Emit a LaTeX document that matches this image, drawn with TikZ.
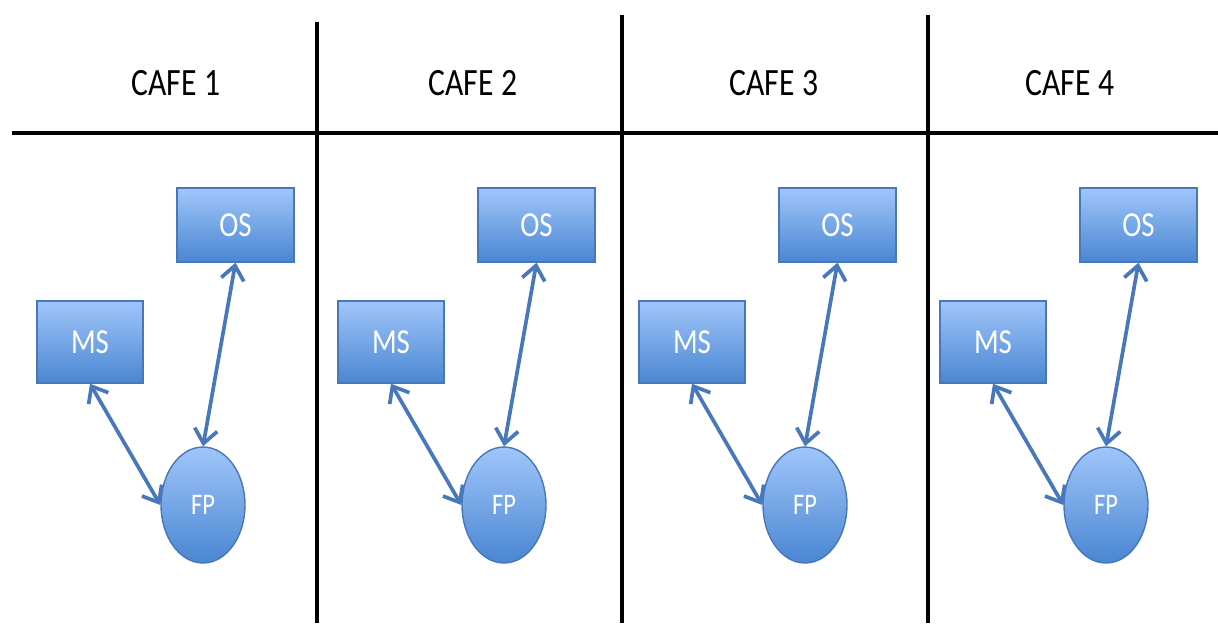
\documentclass[tikz,border=0pt]{standalone}
\usepackage{fontspec}
\setmainfont{Carlito}[FakeStretch=0.82]
\usetikzlibrary{arrows.meta,shapes.geometric}
\definecolor{boxtop}{RGB}{160,198,250}
\definecolor{boxbot}{RGB}{74,134,210}
\definecolor{boxline}{RGB}{72,120,185}
\tikzset{
  bluebox/.style={draw=boxline,line width=0.8pt,top color=boxtop,bottom color=boxbot,
    text=white,font=\fontsize{20}{20}\selectfont,inner sep=0pt},
  srvbox/.style={bluebox,rectangle,minimum width=2.34cm,minimum height=1.48cm},
  msbox/.style={bluebox,rectangle,minimum width=2.12cm,minimum height=1.64cm},
  fpnode/.style={bluebox,ellipse,minimum width=1.68cm,minimum height=2.32cm,font=\fontsize{17}{17}\selectfont},
  link/.style={draw=boxline,line width=2.1pt,{Straight Barb[length=8pt,width=13pt]}-{Straight Barb[length=8pt,width=13pt]}},
  cafelabel/.style={font=\fontsize{22}{22}\selectfont}
}
\begin{document}
\begin{tikzpicture}[x=0.02cm,y=-0.02cm]
  \useasboundingbox (0,0) rectangle (1218,623);
  % grid of cafes
  \draw [line width=2.2pt] (12,133) -- (1218,133);
  \draw [line width=2.2pt] (317,22) -- (317,623);
  \draw [line width=2.2pt] (622,15) -- (622,623);
  \draw [line width=2.2pt] (928,15) -- (928,623);
  \foreach \i/\cx in {1/176,2/473,3/774,4/1070}{
    \node [cafelabel] (cafe\i) at (\cx,83) {CAFE \i};
  }
  \foreach \i in {1,...,4}{
    \pgfmathsetmacro{\dx}{301*(\i-1)}
    \node [srvbox] (os\i) at (235.5+\dx,225) {OS};
    \node [msbox] (ms\i) at (90+\dx,342) {MS};
    \node [fpnode] (fp\i) at (203+\dx,505) {FP};
    \draw [link] (ms\i.south) -- (fp\i.west);
    \draw [link] (os\i.south) -- (fp\i.north);
  }
\end{tikzpicture}
\end{document}
